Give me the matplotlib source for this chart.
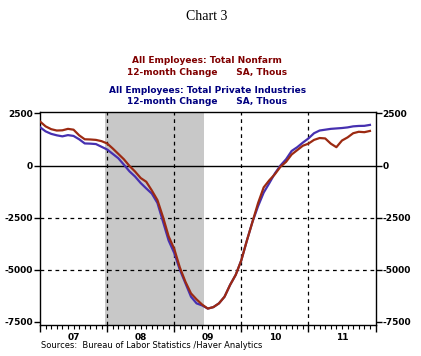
import matplotlib.pyplot as plt
import numpy as np

# monthly, Jan 2007 .. Dec 2011 (12-month change, thousands)
nonfarm = [2115, 1880, 1745, 1680, 1690, 1760, 1720, 1450, 1260, 1250, 1230, 1170,
           1060, 820, 560, 300, -20, -290, -600, -780, -1200, -1660, -2480, -3400,
           -4000, -4890, -5580, -6140, -6430, -6680, -6870, -6800, -6620, -6300, -5730, -5250,
           -4550, -3600, -2700, -1800, -1050, -710, -420, -60, 175, 530, 740, 950,
           1050, 1230, 1320, 1300, 1050, 880, 1200, 1350, 1550, 1620, 1600, 1660]
private = [1840, 1640, 1520, 1450, 1400, 1460, 1420, 1260, 1060, 1050, 1030, 900,
           770, 560, 350, 40, -280, -530, -840, -1100, -1350, -1800, -2700, -3600,
           -4200, -5000, -5650, -6300, -6620, -6720, -6870, -6800, -6620, -6300, -5730, -5250,
           -4550, -3600, -2700, -1950, -1300, -850, -380, 0, 300, 700, 880, 1100,
           1300, 1550, 1680, 1720, 1760, 1780, 1800, 1830, 1880, 1900, 1905, 1950]
year_labels = ["07", "08", "09", "10", "11"]
y_ticks = [2500, 0, -2500, -5000, -7500]
recession = (11.6, 29.4)  # Dec 2007 - Jun 2009, in months since Jan 2007

RED = "#9c2a12"
BLUE = "#4630b0"

fig = plt.figure(figsize=(4.21, 3.56), dpi=100)
ax = fig.add_axes([0.095, 0.087, 0.797, 0.599])

x = np.arange(len(nonfarm))
ax.axvspan(*recession, color="#c8c8c8", lw=0, zorder=0)
for yr in range(12, 60, 12):
    ax.axvline(yr, color="black", lw=0.9, ls=(0, (3, 3)), zorder=1)
for v in (-2500, -5000):
    ax.axhline(v, color="black", lw=0.9, ls=(0, (3, 3)), zorder=1)
ax.axhline(0, color="black", lw=1.0, zorder=1)

ax.plot(x, private, color=BLUE, lw=1.6, zorder=3)
ax.plot(x, nonfarm, color=RED, lw=1.6, zorder=4)

ax.set_xlim(0, 60)
ax.set_ylim(-7660, 2580)

ax.set_xticks(range(0, 61, 12))
ax.set_xticks(range(0, 61), minor=True)
ax.set_xticklabels([])
ax.tick_params(axis="x", which="major", direction="out", length=5, width=1)
ax.tick_params(axis="x", which="minor", direction="out", length=3, width=0.8)
for i, lab in enumerate(year_labels):
    ax.text(6 + 12 * i, -8050, lab, ha="center", va="top", fontsize=6.5,
            fontweight="bold", family="DejaVu Sans")

ax.set_yticks(y_ticks)
ax.set_yticklabels([str(v) for v in y_ticks], fontsize=6.5, fontweight="bold")
ax.tick_params(axis="y", which="both", direction="out", length=4, width=1,
               left=True, right=True, labelleft=True, labelright=True, pad=1)
for s in ax.spines.values():
    s.set_linewidth(1.0)

fig.text(0.492, 0.955, "Chart 3", ha="center", va="center", fontsize=10,
         family="Liberation Serif")
fig.text(0.492, 0.831, "All Employees: Total Nonfarm", ha="center", va="center",
         fontsize=6.5, fontweight="bold", color="#800000")
fig.text(0.492, 0.797, "12-month Change      SA, Thous", ha="center", va="center",
         fontsize=6.5, fontweight="bold", color="#800000")
fig.text(0.492, 0.747, "All Employees: Total Private Industries", ha="center", va="center",
         fontsize=6.5, fontweight="bold", color="#000080")
fig.text(0.492, 0.716, "12-month Change      SA, Thous", ha="center", va="center",
         fontsize=6.5, fontweight="bold", color="#000080")
fig.text(0.097, 0.03, "Sources:  Bureau of Labor Statistics /Haver Analytics",
         ha="left", va="center", fontsize=6)

fig.savefig("out.png", dpi=100)
